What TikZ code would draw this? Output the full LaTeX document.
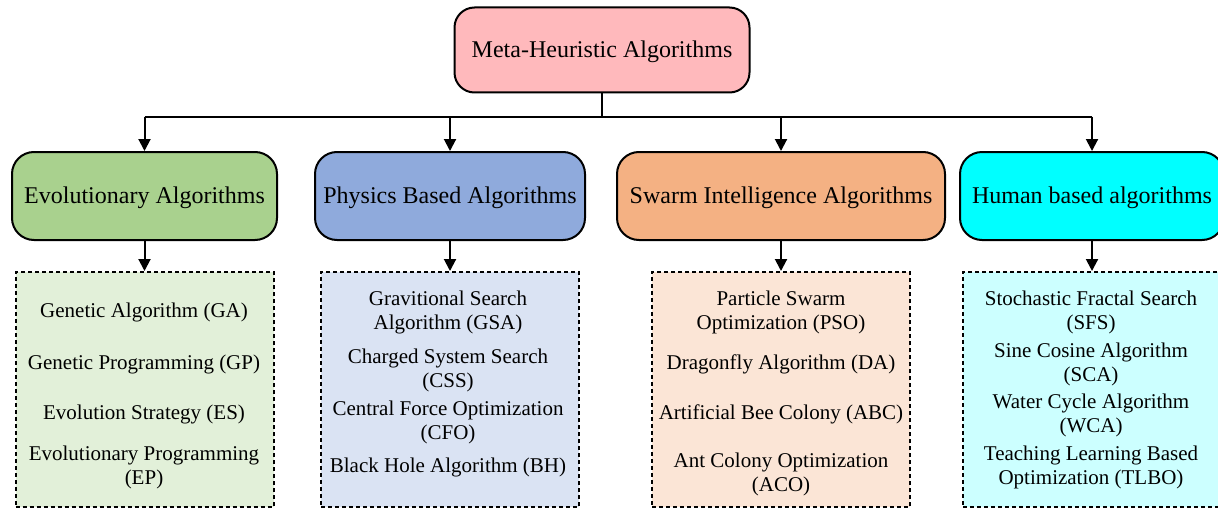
\documentclass[tikz,border=0pt]{standalone}
\usepackage{fontspec}
\setmainfont{Liberation Serif}
\usetikzlibrary{arrows.meta,positioning}
\definecolor{MetaPink}{RGB}{255,185,188}
\definecolor{EvoGreen}{RGB}{169,209,142}
\definecolor{PhysBlue}{RGB}{143,170,220}
\definecolor{SwarmOrange}{RGB}{244,177,131}
\definecolor{HumanCyan}{RGB}{0,255,255}
\definecolor{SoftEvo}{RGB}{226,240,217}
\definecolor{SoftPhys}{RGB}{218,227,243}
\definecolor{SoftSwarm}{RGB}{251,229,214}
\definecolor{SoftHuman}{RGB}{204,255,255}
\begin{document}
\begin{tikzpicture}[x=0.5pt,y=-0.5pt,>={Triangle[length=6pt,width=6pt]},line width=1pt,node distance=15pt,
  catbox/.style={draw,line width=1pt,rounded corners=11pt,minimum height=44pt,font=\fontsize{12}{14}\selectfont,inner sep=2pt,text depth=1pt},
  listbox/.style={draw,line width=1pt,dash pattern=on 2pt off 1.5pt,minimum width=129pt,minimum height=117.5pt},
  item/.style={align=center,font=\fontsize{10.5}{12}\selectfont,inner sep=1pt}]
\useasboundingbox (0,0) rectangle (1218,508);
\node[catbox,fill=MetaPink,minimum width=147.5pt,minimum height=42.5pt,rounded corners=10pt] (meta) at (602,50) {Meta-Heuristic Algorithms};
\node[catbox,fill=EvoGreen,minimum width=132.5pt] (evo) at (144.5,196) {Evolutionary Algorithms};
\node[catbox,fill=PhysBlue,minimum width=135pt] (phys) at (450,196) {Physics Based Algorithms};
\node[catbox,fill=SwarmOrange,minimum width=164pt] (swarm) at (781,196) {Swarm Intelligence Algorithms};
\node[catbox,fill=HumanCyan,minimum width=132pt] (human) at (1092,196) {Human based algorithms};
\node[listbox,fill=SoftEvo,below=of evo] (evolist) {};
\node[listbox,fill=SoftPhys,below=of phys] (physlist) {};
\node[listbox,fill=SoftSwarm,below=of swarm] (swarmlist) {};
\node[listbox,fill=SoftHuman,below=of human] (humanlist) {};
% bus from the root
\draw (meta.south) -- ++(0,23) coordinate (bus);
\draw (evo.north |- bus) -- (human.north |- bus);
\foreach \c in {evo,phys,swarm,human}{
  \draw[->] (\c.north |- bus) -- (\c.north);
  \draw[->] (\c.south) -- (\c list.north);
}
% evolutionary
\node[item] (ga) at (144,312) {Genetic Algorithm (GA)};
\node[item] (gp) at (144,364) {Genetic Programming (GP)};
\node[item] (es) at (144,414) {Evolution Strategy (ES)};
\node[item] (ep) at (144,467) {Evolutionary Programming\\(EP)};
% physics
\node[item] (gsa) at (448,312) {Gravitional Search\\Algorithm (GSA)};
\node[item] (css) at (448,370) {Charged System Search\\(CSS)};
\node[item] (cfo) at (448,422) {Central Force Optimization\\(CFO)};
\node[item] (bh) at (448,467) {Black Hole Algorithm (BH)};
% swarm
\node[item] (pso) at (781,312) {Particle Swarm\\Optimization (PSO)};
\node[item] (da) at (781,364) {Dragonfly Algorithm (DA)};
\node[item] (abc) at (781,414) {Artificial Bee Colony (ABC)};
\node[item] (aco) at (781,474) {Ant Colony Optimization\\(ACO)};
% human
\node[item] (sfs) at (1091,312) {Stochastic Fractal Search\\(SFS)};
\node[item] (sca) at (1091,364) {Sine Cosine Algorithm\\(SCA)};
\node[item] (wca) at (1091,415) {Water Cycle Algorithm\\(WCA)};
\node[item] (tlbo) at (1091,467) {Teaching Learning Based\\Optimization (TLBO)};
\end{tikzpicture}
\end{document}
